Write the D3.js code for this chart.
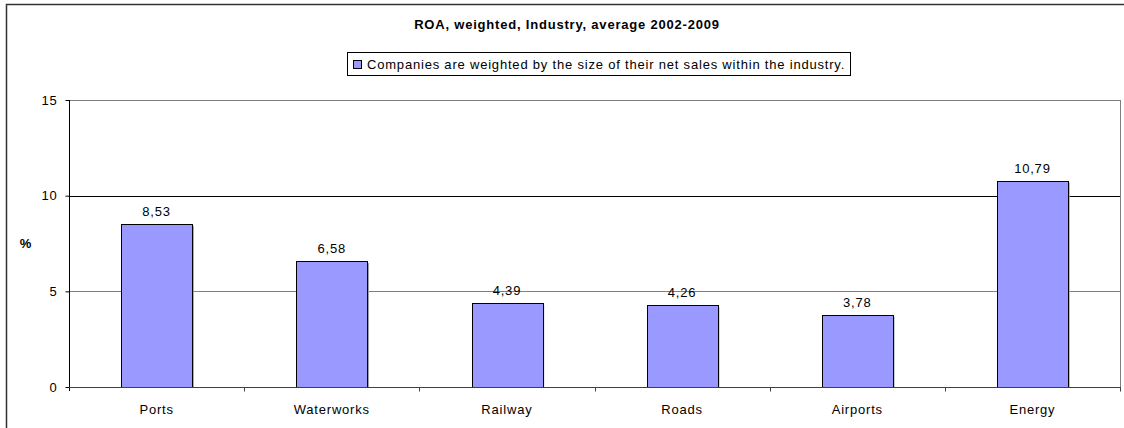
<!DOCTYPE html>
<html>
<head>
<meta charset="utf-8">
<script src="https://cdn.jsdelivr.net/npm/d3@7"></script>
<style>
  html, body { margin: 0; padding: 0; background: #fff; overflow: hidden; }
  svg { display: block; overflow: hidden; font-family: "Liberation Sans", Arial, sans-serif; }
  svg text { letter-spacing: 0.8px; }
</style>
</head>
<body>
<svg id="chart" width="1124" height="428"></svg>
<script>
// Return on assets by industry, sales-weighted average 2002-2009 (%)
const categories = ["Ports", "Waterworks", "Railway", "Roads", "Airports", "Energy"];
const roaValues = [8.53, 6.58, 4.39, 4.26, 3.78, 10.79];
const yTicks = [0, 5, 10, 15];
const titleText = "ROA, weighted, Industry, average 2002-2009";
const legendText = "Companies are weighted by the size of their net sales within the industry.";
const yAxisLabel = "%";

const svg = d3.select("#chart");
const W = 1124, H = 428;
const plot = { left: 69, right: 1120, top: 100, bottom: 387 };
const FS = 13;

// outer chart frame (only the left and top edges fall inside the canvas)
svg.append("path")
  .attr("d", `M6.5,${H}V4.5H${W}`)
  .attr("fill", "none")
  .attr("stroke", "#333").attr("stroke-width", 1.5);

const x = d3.scaleBand().domain(categories).range([plot.left, plot.right]).padding(0);
const y = d3.scaleLinear().domain([0, 15]).range([plot.bottom, plot.top]);

// horizontal gridlines
svg.append("g").selectAll("line")
  .data(yTicks.filter(t => t > 0))
  .join("line")
  .attr("x1", plot.left).attr("x2", plot.right)
  .attr("y1", d => Math.round(y(d)) + 0.5).attr("y2", d => Math.round(y(d)) + 0.5)
  .attr("stroke", d => d === 10 ? "#000" : "#808080")
  .attr("stroke-width", 1);

// right edge of plot area
svg.append("line")
  .attr("x1", plot.right + 0.5).attr("x2", plot.right + 0.5)
  .attr("y1", plot.top).attr("y2", plot.bottom)
  .attr("stroke", "#808080");

// bars with a soft drop shadow
const barW = x.bandwidth() * 0.403;
const bars = svg.append("g");
bars.selectAll("rect.shadow")
  .data(categories)
  .join("rect")
  .attr("class", "shadow")
  .attr("x", d => x(d) + (x.bandwidth() - barW) / 2 + 2)
  .attr("y", (d, i) => y(roaValues[i]) + 2)
  .attr("width", barW)
  .attr("height", (d, i) => plot.bottom - y(roaValues[i]) - 2)
  .attr("fill", "#a0a0a0");
bars.selectAll("rect.bar")
  .data(categories)
  .join("rect")
  .attr("class", "bar")
  .attr("x", d => Math.round(x(d) + (x.bandwidth() - barW) / 2) + 0.5)
  .attr("y", (d, i) => Math.round(y(roaValues[i])) + 0.5)
  .attr("width", Math.round(barW))
  .attr("height", (d, i) => plot.bottom - Math.round(y(roaValues[i])))
  .attr("fill", "#9999FF")
  .attr("stroke", "#000").attr("stroke-width", 1);

// value labels (comma decimal separator)
svg.append("g").selectAll("text")
  .data(categories)
  .join("text")
  .attr("x", d => x(d) + x.bandwidth() / 2)
  .attr("y", (d, i) => y(roaValues[i]) - 8)
  .attr("text-anchor", "middle")
  .attr("font-size", FS)
  .attr("fill", "#000")
  .text((d, i) => roaValues[i].toFixed(2).replace(".", ","));

// y axis
const yAxis = d3.axisLeft(y).tickValues(yTicks).tickSize(4).tickPadding(8).tickFormat(d3.format("d"));
const gy = svg.append("g")
  .attr("transform", `translate(${plot.left + 0.5},0)`)
  .call(yAxis);
gy.select(".domain").attr("d", `M0,${plot.top}V${plot.bottom + 4}`).attr("stroke", "#000");
gy.selectAll(".tick line").attr("stroke", "#000");
gy.selectAll(".tick text")
  .attr("font-family", "Liberation Sans, Arial, sans-serif")
  .attr("font-size", FS).attr("fill", "#000");

// x axis with tick marks between categories
const xAxis = d3.axisBottom(x).tickSize(0).tickPadding(17);
const gx = svg.append("g")
  .attr("transform", `translate(0,${plot.bottom + 0.5})`)
  .call(xAxis);
gx.select(".domain").attr("d", `M${plot.left},0H${plot.right + 1}`).attr("stroke", "#404040");
gx.selectAll(".tick text")
  .attr("font-family", "Liberation Sans, Arial, sans-serif")
  .attr("font-size", FS).attr("fill", "#000");
const bounds = categories.map(c => x(c)).concat([plot.right]).slice(1);
gx.append("g").selectAll("line")
  .data(bounds)
  .join("line")
  .attr("x1", d => Math.round(d) + 0.5).attr("x2", d => Math.round(d) + 0.5)
  .attr("y1", 0).attr("y2", 4)
  .attr("stroke", "#404040");

// axis title
svg.append("text")
  .attr("x", 26).attr("y", 248)
  .attr("text-anchor", "middle")
  .attr("font-size", FS).attr("font-weight", "bold")
  .text(yAxisLabel);

// chart title
svg.append("text")
  .attr("x", 567).attr("y", 29)
  .attr("text-anchor", "middle")
  .attr("font-size", FS).attr("font-weight", "bold")
  .text(titleText);

// legend
const lg = svg.append("g");
const lgText = lg.append("text")
  .attr("x", 367).attr("y", 69)
  .attr("font-size", FS)
  .text(legendText);
const tw = lgText.node().getComputedTextLength();
lg.insert("rect", "text")
  .attr("x", 347.5).attr("y", 52.5)
  .attr("width", Math.round(367 + tw + 5 - 347.5)).attr("height", 23)
  .attr("fill", "#fff").attr("stroke", "#000");
lg.append("rect")
  .attr("x", 353.5).attr("y", 60.5)
  .attr("width", 8).attr("height", 8)
  .attr("fill", "#9999FF").attr("stroke", "#000");
</script>
</body>
</html>
